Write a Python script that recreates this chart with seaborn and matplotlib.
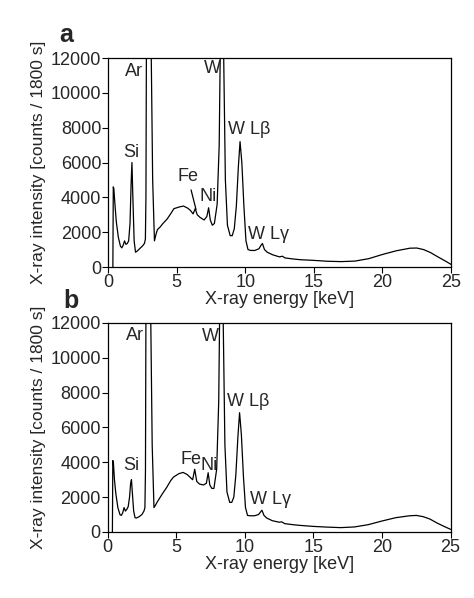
import pandas as pd
import matplotlib
matplotlib.use("Agg")
import matplotlib.pyplot as plt
import seaborn as sns

# X-ray energy grid [keV] shared by both spectra
energy_kev = [0.35, 0.38, 0.42, 0.5, 0.6, 0.75, 0.9, 1.0, 1.1, 1.2,
              1.3, 1.4, 1.5, 1.6, 1.68, 1.74, 1.8, 1.9, 2.0, 2.1,
              2.3, 2.5, 2.65, 2.72, 2.76, 2.80, 2.95, 3.12, 3.25, 3.38,
              3.5, 3.6, 3.8, 4.0, 4.3, 4.6, 4.8, 5.0, 5.2, 5.5,
              5.8, 6.0, 6.2, 6.35, 6.5, 6.7, 7.0, 7.2, 7.33, 7.45,
              7.6, 7.75, 7.95, 8.1, 8.2, 8.3, 8.42, 8.55, 8.7, 8.9,
              9.05, 9.2, 9.35, 9.5, 9.62, 9.75, 9.9, 10.05, 10.2, 10.4,
              10.7, 11.0, 11.15, 11.25, 11.4, 11.6, 12.0, 12.5, 12.7, 12.9,
              13.5, 14, 15, 16, 17, 18, 19, 20, 21, 22,
              22.5, 23, 23.5, 24, 24.5, 25]

# counts / 1800 s, panel a
counts_a = [0, 4600, 4500, 3600, 2600, 1700, 1200, 1100, 1250, 1500,
            1300, 1350, 1500, 2500, 4800, 6000, 4200, 1500, 850, 900,
            1050, 1200, 1350, 1600, 4000, 14000, 40000, 14000, 5000, 1500,
            1900, 2150, 2300, 2500, 2750, 3100, 3350, 3400, 3450, 3500,
            3380, 3250, 3050, 3350, 3000, 2850, 2700, 2900, 3400, 2700,
            2400, 2500, 3600, 7000, 14000, 30000, 12500, 5000, 2400, 1800,
            1800, 2200, 3500, 5800, 7200, 6000, 3500, 1500, 1000, 950,
            950, 1050, 1250, 1350, 1000, 850, 700, 580, 620, 520,
            460, 420, 380, 330, 310, 340, 480, 720, 930, 1080,
            1090, 1000, 830, 600, 380, 150]

# counts / 1800 s, panel b
counts_b = [0, 4100, 4000, 3000, 2200, 1400, 1000, 950, 1100, 1400,
            1200, 1300, 1450, 2000, 2800, 3000, 2300, 1200, 820, 800,
            880, 1000, 1200, 1400, 3500, 14000, 40000, 14000, 5000, 1400,
            1550, 1700, 1950, 2200, 2550, 2950, 3150, 3250, 3350, 3420,
            3300, 3150, 3000, 3600, 2900, 2750, 2700, 2800, 3400, 2700,
            2500, 2500, 3600, 7500, 15000, 30000, 12500, 5000, 2300, 1700,
            1700, 2000, 3300, 5500, 6850, 5600, 3200, 1400, 950, 930,
            930, 1000, 1150, 1250, 950, 800, 650, 560, 580, 480,
            420, 380, 320, 280, 250, 290, 420, 630, 820, 930,
            950, 880, 740, 520, 330, 150]

peak_labels = ["Ar", "W", "Si", "Fe", "Ni", "W L\u03b2", "W L\u03b3"]
label_pos_a = [(1.92, 11250), (7.63, 11370), (1.70, 6570), (5.81, 5180),
               (7.31, 4040), (10.25, 7890), (11.71, 1890)]
label_pos_b = [(2.02, 11300), (7.49, 11200), (1.73, 3820), (6.08, 4180),
               (7.37, 3820), (10.22, 7480), (11.87, 1850)]
fe_leader_end = (6.41, 3300)

sns.set_theme(style="ticks")
plt.rcParams["font.family"] = ["Liberation Sans", "DejaVu Sans"]


def draw_panel(ax, counts, label_pos, fe_leader=False):
    df = pd.DataFrame({"energy": energy_kev, "counts": counts})
    sns.lineplot(data=df, x="energy", y="counts", ax=ax, color="black",
                 lw=0.9, sort=False)
    ax.set_xlim(0, 25)
    ax.set_ylim(0, 12000)
    ax.set_xticks(range(0, 26, 5))
    ax.set_yticks(range(0, 12001, 2000))
    ax.tick_params(labelsize=13, length=4, width=0.8, pad=1, color="black")
    ax.set_xlabel("X-ray energy [keV]", fontsize=13, labelpad=0)
    ax.set_ylabel("X-ray intensity [counts / 1800 s]", fontsize=12.5,
                  labelpad=3)
    for sp in ax.spines.values():
        sp.set_visible(True)
        sp.set_linewidth(0.9)
        sp.set_color("black")
    for txt, (x, y) in zip(peak_labels, label_pos):
        if txt == "Fe" and fe_leader:
            ax.annotate(txt, xy=fe_leader_end, xytext=(x, y), fontsize=13,
                        ha="center", va="center",
                        arrowprops=dict(arrowstyle="-", lw=0.9, color="black",
                                        shrinkA=1, shrinkB=0))
        else:
            ax.text(x, y, txt, fontsize=13, ha="center", va="center")


fig = plt.figure(figsize=(4.74, 5.98), dpi=100)
ax_a = fig.add_axes([0.228, 0.5535, 0.7236, 0.3495])
ax_b = fig.add_axes([0.227, 0.1104, 0.7236, 0.3495])

draw_panel(ax_a, counts_a, label_pos_a, fe_leader=True)
draw_panel(ax_b, counts_b, label_pos_b)

fig.text(59 / 474, 1 - 42 / 598, "a", fontsize=18, fontweight="bold",
         ha="left", va="baseline")
fig.text(63 / 474, 1 - 308 / 598, "b", fontsize=18, fontweight="bold",
         ha="left", va="baseline")

fig.savefig("out.png", dpi=100)
